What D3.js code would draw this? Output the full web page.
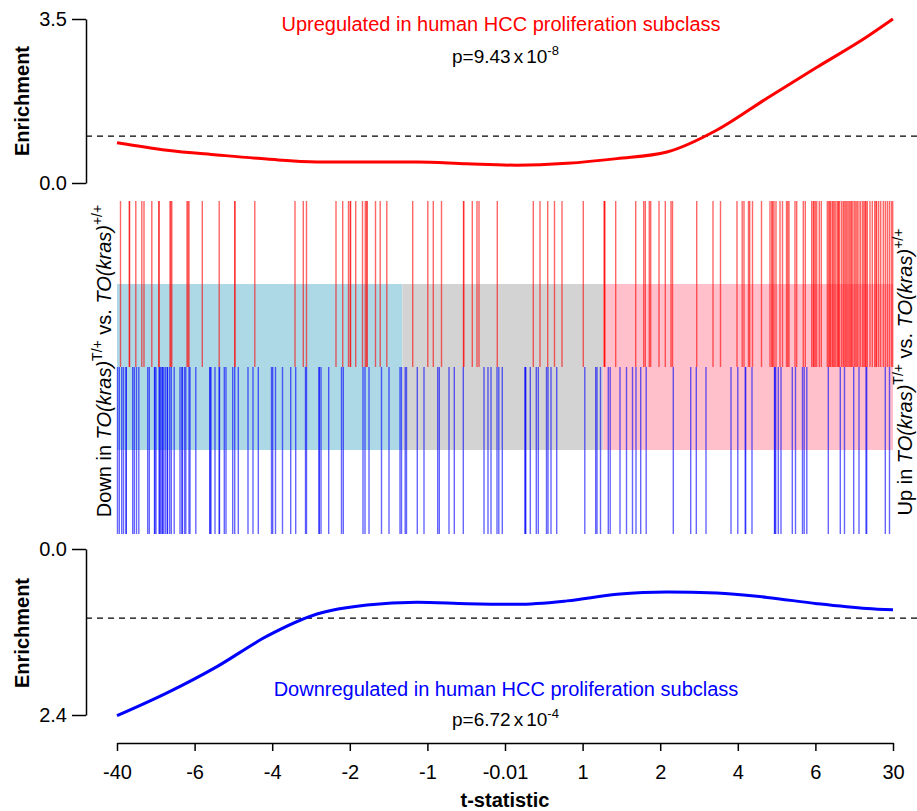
<!DOCTYPE html>
<html>
<head>
<meta charset="utf-8">
<script src="https://cdn.jsdelivr.net/npm/d3@7"></script>
<style>
  body { margin: 0; background: #fff; }
  svg text { font-family: "Liberation Sans", Arial, sans-serif; }
</style>
</head>
<body>
<div id="chart"></div>
<script>
// gene ranks (0 = most down, 7760 = most up) of the two gene sets
var nGenes = 7760;
var upRanks = [35,123,126,188,248,270,348,418,421,530,538,548,700,710,720,853,1022,1177,1180,1378,
  1780,1863,1895,2190,2257,2315,2333,2336,2387,2455,2483,2498,2501,2585,2632,2698,2957,3108,3163,3245,
  3465,3468,3553,3600,3620,3803,4163,4230,4307,4375,4450,4663,4872,4875,4878,4987,5187,5267,5283,5323,
  5337,5420,5483,5540,5555,5797,5960,6035,6200,6252,6270,6315,6327,6355,6445,6530,6547,6557,6570,6590,
  6630,6655,6695,6708,6720,6780,6797,6863,6883,6947,6963,6970,6983,6997,7023,7043,7103,7117,7127,
  7137,7153,7163,7177,7190,7207,7215,7223,7243,7260,7270,7283,7297,7310,
  7323,7337,7347,7360,7377,7390,7403,7420,7437,7457,7470,7483,7490,7503,7530,
  7553,7577,7590,7597,7617,7637,7663,7683,7703,7723,7743,7757];
var downRanks = [5,23,47,65,90,93,157,173,195,218,307,323,375,378,390,422,425,437,452,455,468,485,503,
  506,527,543,572,630,650,653,675,688,720,730,788,928,931,940,980,1022,1025,1073,1090,1157,1177,1213,
  1310,1360,1413,1545,1557,1585,1655,1737,1787,1885,1895,2020,2023,2040,2117,2245,2263,2460,2480,2520,
  2645,2720,2830,2845,2882,2895,3003,3070,3207,3223,3320,3373,3463,3670,3710,3740,3800,3818,3853,4080,
  4083,4088,4133,4193,4213,4295,4310,4340,4397,4678,4787,4800,4835,4913,4932,5030,5095,5155,5190,5237,
  5292,5563,5737,5793,5890,6140,6208,6282,6287,6350,6575,6578,6587,6613,6640,6753,6785,6855,6872,6898,
  7113,7233,7275,7367,7420,7490,7497,7683,7725];

// running enrichment
var enrichRanks = [0,500,1000,1500,2000,2500,3000,3500,4000,4500,5000,5500,6000,6500,7000,7500,7760];
var upEnrich    = [0.86,0.70,0.60,0.51,0.45,0.45,0.45,0.41,0.38,0.42,0.52,0.66,1.13,1.81,2.47,3.12,3.5];
var downEnrich  = [2.41,2.08,1.70,1.26,0.94,0.81,0.77,0.79,0.80,0.75,0.655,0.62,0.635,0.70,0.79,0.86,0.88];

// quantile regions (ranks of t = -sqrt(2), +sqrt(2))
var lowerRank = 2853;
var upperRank = 4863;

// x axis: t-statistic quantiles
var tickRanks  = [0,776,1552,2328,3104,3880,4656,5432,6208,6984,7760];
var tickLabels = ['-40','-6','-4','-2','-1','-0.01','1','2','4','6','30'];

var chart_width  = 917;
var chart_height = 811;
var svg = d3.select('#chart')
    .append('svg')
    .attr('width', chart_width)
    .attr('height', chart_height);

var x_scale = d3.scaleLinear().domain([0, nGenes]).range([117, 893]);
var y_up    = d3.scaleLinear().domain([0, 3.5]).range([183, 19]);
var y_down  = d3.scaleLinear().domain([0, 2.4]).range([549, 715]);
var barTop = 201, barMid = 367, barBot = 534, boxTop = 284, boxBot = 450;

// background boxes
var boxes = [
  { from: 0, to: lowerRank, fill: 'lightblue' },
  { from: lowerRank, to: upperRank, fill: 'lightgrey' },
  { from: upperRank, to: nGenes, fill: 'pink' }
];
svg.selectAll('rect.box')
    .data(boxes)
    .enter()
    .append('rect')
    .attr('class', 'box')
    .attr('x', function(d){ return x_scale(d.from); })
    .attr('width', function(d){ return x_scale(d.to) - x_scale(d.from); })
    .attr('y', boxTop)
    .attr('height', boxBot - boxTop)
    .attr('fill', function(d){ return d.fill; });

// barcodes
svg.selectAll('line.up')
    .data(upRanks)
    .enter()
    .append('line')
    .attr('class', 'up')
    .attr('x1', function(d){ return x_scale(d); })
    .attr('x2', function(d){ return x_scale(d); })
    .attr('y1', barTop)
    .attr('y2', barMid)
    .attr('stroke', '#ff0000')
    .attr('stroke-opacity', 0.6)
    .attr('stroke-width', 1.4);

svg.selectAll('line.down')
    .data(downRanks)
    .enter()
    .append('line')
    .attr('class', 'down')
    .attr('x1', function(d){ return x_scale(d); })
    .attr('x2', function(d){ return x_scale(d); })
    .attr('y1', barMid)
    .attr('y2', barBot)
    .attr('stroke', '#0000ff')
    .attr('stroke-opacity', 0.6)
    .attr('stroke-width', 1.4);

// reference lines at enrichment 1
svg.append('line')
    .attr('x1', 86).attr('x2', chart_width)
    .attr('y1', y_up(1)).attr('y2', y_up(1))
    .attr('stroke', '#000').attr('stroke-width', 1.3).attr('stroke-dasharray', '6,5');
svg.append('line')
    .attr('x1', 86).attr('x2', chart_width)
    .attr('y1', y_down(1)).attr('y2', y_down(1))
    .attr('stroke', '#000').attr('stroke-width', 1.3).attr('stroke-dasharray', '6,5');

// enrichment curves
var upLine = d3.line()
    .x(function(d, i){ return x_scale(enrichRanks[i]); })
    .y(function(d){ return y_up(d); })
    .curve(d3.curveMonotoneX);
var downLine = d3.line()
    .x(function(d, i){ return x_scale(enrichRanks[i]); })
    .y(function(d){ return y_down(d); })
    .curve(d3.curveMonotoneX);

svg.append('path')
    .attr('d', upLine(upEnrich))
    .attr('fill', 'none').attr('stroke', '#ff0000').attr('stroke-width', 3);
svg.append('path')
    .attr('d', downLine(downEnrich))
    .attr('fill', 'none').attr('stroke', '#0000ff').attr('stroke-width', 3);

// axes
function styleAxis(g){
  g.attr('font-family', '"Liberation Sans", Arial, sans-serif').attr('font-size', 20);
  g.selectAll('path, line').attr('stroke-width', 1.5);
}
svg.append('g')
    .attr('transform', 'translate(86,0)')
    .call(d3.axisLeft(y_up).tickValues([0, 3.5]).tickFormat(d3.format('.1f'))
      .tickSize(14).tickSizeOuter(0).tickPadding(5))
    .call(styleAxis);
svg.append('g')
    .attr('transform', 'translate(86,0)')
    .call(d3.axisLeft(y_down).tickValues([0, 2.4]).tickFormat(d3.format('.1f'))
      .tickSize(14).tickSizeOuter(0).tickPadding(5))
    .call(styleAxis);
svg.append('g')
    .attr('transform', 'translate(0,743)')
    .call(d3.axisBottom(x_scale).tickValues(tickRanks)
      .tickFormat(function(d, i){ return tickLabels[i]; })
      .tickSize(8).tickSizeOuter(0).tickPadding(14))
    .call(styleAxis);

// axis titles
svg.append('text')
    .attr('transform', 'translate(29,101) rotate(-90)')
    .attr('text-anchor', 'middle').attr('font-weight', 'bold').attr('font-size', 20)
    .text('Enrichment');
svg.append('text')
    .attr('transform', 'translate(29,633) rotate(-90)')
    .attr('text-anchor', 'middle').attr('font-weight', 'bold').attr('font-size', 20)
    .text('Enrichment');
svg.append('text')
    .attr('x', 505).attr('y', 807)
    .attr('text-anchor', 'middle').attr('font-weight', 'bold').attr('font-size', 20)
    .text('t-statistic');

// set titles and p-values
svg.append('text')
    .attr('x', 501).attr('y', 31)
    .attr('text-anchor', 'middle').attr('font-size', 20).attr('fill', '#ff0000')
    .text('Upregulated in human HCC proliferation subclass');
svg.append('text')
    .attr('x', 506).attr('y', 696)
    .attr('text-anchor', 'middle').attr('font-size', 20).attr('fill', '#0000ff')
    .text('Downregulated in human HCC proliferation subclass');

function pValue(y, mant, expo){
  var t = svg.append('text')
      .attr('x', 452).attr('y', y)
      .attr('font-size', 19);
  t.append('tspan').text('p=' + mant);
  t.append('tspan').attr('dx', 3).text('x');
  t.append('tspan').attr('dx', 3).text('10');
  t.append('tspan').attr('dy', -8).attr('font-size', 13).text(expo);
}
pValue(63, '9.43', '-8');
pValue(726, '6.72', '-4');

// side labels
function sideLabel(x, y, word){
  var t = svg.append('text')
      .attr('transform', 'translate(' + x + ',' + y + ') rotate(-90)')
      .attr('text-anchor', 'middle').attr('font-size', 20);
  t.append('tspan').text(word + ' in ');
  t.append('tspan').attr('font-style', 'italic').text('TO(kras)');
  t.append('tspan').attr('dy', -9).attr('font-size', 14).text('T/+');
  t.append('tspan').attr('dy', 9).text(' vs. ');
  t.append('tspan').attr('font-style', 'italic').text('TO(kras)');
  t.append('tspan').attr('dy', -9).attr('font-size', 14).text('+/+');
}
sideLabel(111, 361, 'Down');
sideLabel(912, 372, 'Up');
</script>
</body>
</html>
